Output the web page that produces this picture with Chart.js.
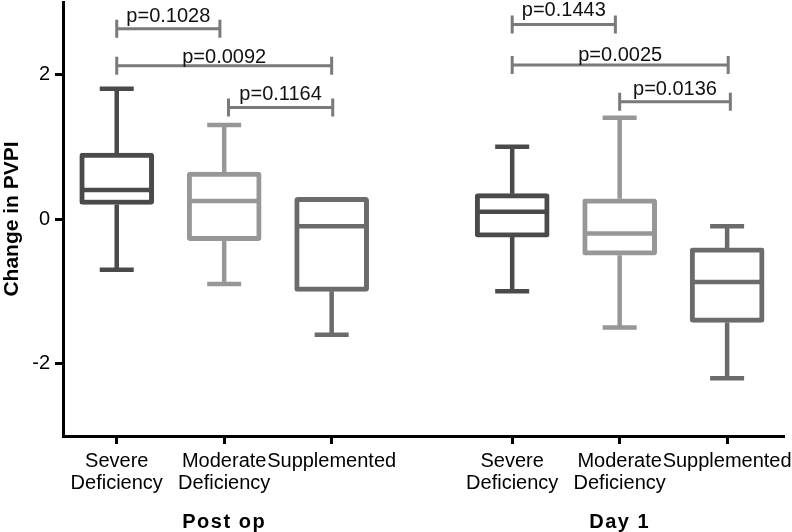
<!DOCTYPE html>
<html>
<head>
<meta charset="utf-8">
<script src="https://cdn.jsdelivr.net/npm/chart.js@4.4.1/dist/chart.umd.min.js"></script>
<style>
  html, body { margin: 0; padding: 0; background: #fff; }
  #wrap { width: 792px; height: 532px; }
</style>
</head>
<body>
<div id="wrap"><canvas id="pvpi"></canvas></div>
<script>
// categories and where they sit on the x axis (gap between the two time points)
var groups = ['Post op', 'Day 1'];
var groupCentre = [2, 5.68];
var categories = [
  ['Severe', 'Deficiency'], ['Moderate', 'Deficiency'], ['Supplemented'],
  ['Severe', 'Deficiency'], ['Moderate', 'Deficiency'], ['Supplemented']
];
var xPos = [1, 2, 3, 4.68, 5.68, 6.68];

// box plot values, change in PVPI
var whiskerLow  = [-0.7, -0.9, -1.6, -1.0, -1.5, -2.2];
var q1          = [0.2, -0.3, -1.0, -0.25, -0.5, -1.43];
var median      = [0.4, 0.25, -0.1, 0.1, -0.2, -0.87];
var q3          = [0.91, 0.65, 0.3, 0.35, 0.28, -0.4];
var whiskerHigh = [1.8, 1.3, 0.3, 1.0, 1.4, -0.1];

var yTicks = [-2, 0, 2];

// significance brackets
var pairFrom = [1, 1, 2.04, 4.68, 4.68, 5.68];
var pairTo   = [1.96, 3, 3.01, 5.64, 6.69, 6.71];
var pairY    = [2.63, 2.12, 1.54, 2.69, 2.13, 1.62];
var pValues  = ['p=0.1028', 'p=0.0092', 'p=0.1164', 'p=0.1443', 'p=0.0025', 'p=0.0136'];

var FONT = '"Liberation Sans", Arial, Helvetica, sans-serif';
var boxColors = ['#4a4a4a', '#979797', '#6b6b6b', '#4a4a4a', '#979797', '#6b6b6b'];
var labelGap = [7, 3, 8, 8, 4, 7];

var boxExtras = {
  id: 'boxExtras',
  afterDatasetsDraw: function (chart) {
    var ctx = chart.ctx, x = chart.scales.x, y = chart.scales.y;
    var half = 37, cap = 17;
    ctx.save();
    ctx.lineCap = 'butt';
    for (var i = 0; i < xPos.length; i++) {
      var cx = x.getPixelForValue(xPos[i]);
      ctx.strokeStyle = boxColors[i];
      ctx.lineWidth = 4.5;
      ctx.beginPath();
      if (whiskerHigh[i] > q3[i]) {
        var yh = y.getPixelForValue(whiskerHigh[i]);
        ctx.moveTo(cx, y.getPixelForValue(q3[i]));
        ctx.lineTo(cx, yh);
        ctx.moveTo(cx - cap, yh);
        ctx.lineTo(cx + cap, yh);
      }
      if (whiskerLow[i] < q1[i]) {
        var yl = y.getPixelForValue(whiskerLow[i]);
        ctx.moveTo(cx, y.getPixelForValue(q1[i]));
        ctx.lineTo(cx, yl);
        ctx.moveTo(cx - cap, yl);
        ctx.lineTo(cx + cap, yl);
      }
      var ym = y.getPixelForValue(median[i]);
      ctx.moveTo(cx - half + 2, ym);
      ctx.lineTo(cx + half - 2, ym);
      ctx.stroke();
    }

    // brackets with p values
    ctx.strokeStyle = '#7a7a7a';
    ctx.lineWidth = 3;
    ctx.fillStyle = '#111';
    ctx.font = '20px ' + FONT;
    ctx.textAlign = 'center';
    ctx.textBaseline = 'alphabetic';
    for (var j = 0; j < pValues.length; j++) {
      var x0 = x.getPixelForValue(pairFrom[j]);
      var x1 = x.getPixelForValue(pairTo[j]);
      var yb = y.getPixelForValue(pairY[j]);
      ctx.beginPath();
      ctx.moveTo(x0, yb); ctx.lineTo(x1, yb);
      ctx.moveTo(x0, yb - 9); ctx.lineTo(x0, yb + 9);
      ctx.moveTo(x1, yb - 9); ctx.lineTo(x1, yb + 9);
      ctx.stroke();
      ctx.fillText(pValues[j], (x0 + x1) / 2, yb - labelGap[j]);
    }
    ctx.restore();
  },
  afterDraw: function (chart) {
    var ctx = chart.ctx, x = chart.scales.x;
    ctx.save();
    ctx.fillStyle = '#000';
    ctx.font = 'bold 20px ' + FONT;
    ctx.letterSpacing = '1.5px';
    ctx.textAlign = 'center';
    ctx.textBaseline = 'middle';
    for (var g = 0; g < groups.length; g++) {
      ctx.fillText(groups[g], x.getPixelForValue(groupCentre[g]), chart.chartArea.bottom + 86);
    }
    ctx.restore();
  }
};

var ctx = document.getElementById('pvpi').getContext('2d');
var chart = new Chart(ctx, {
  type: 'bar',
  data: {
    datasets: [{
      data: xPos.map(function (v, i) { return { x: v, y: [q1[i], q3[i]] }; }),
      backgroundColor: '#ffffff',
      borderColor: boxColors,
      borderWidth: 5,
      borderSkipped: false,
      borderRadius: 3,
      barThickness: 74
    }]
  },
  options: {
    responsive: true,
    maintainAspectRatio: false,
    animation: false,
    layout: { padding: { top: 2, right: 9, left: 0, bottom: 0 } },
    plugins: {
      legend: { display: false },
      tooltip: { enabled: false }
    },
    scales: {
      x: {
        type: 'linear',
        min: 0.5,
        max: 7.2,
        offset: false,
        afterBuildTicks: function (s) { s.ticks = xPos.map(function (v) { return { value: v }; }); },
        afterFit: function (s) { s.height = 96; s.paddingLeft = 0; s.paddingRight = 0; },
        ticks: {
          autoSkip: false,
          maxRotation: 0,
          padding: 6,
          color: '#000',
          font: { family: FONT, size: 20, lineHeight: 1.1 },
          callback: function (v) {
            var i = xPos.indexOf(v);
            return i < 0 ? '' : categories[i];
          }
        },
        grid: { offset: false, drawOnChartArea: false, tickLength: 8, color: '#000', lineWidth: 3 },
        border: { color: '#000', width: 3 }
      },
      y: {
        min: -3,
        max: 3,
        afterBuildTicks: function (s) { s.ticks = yTicks.map(function (v) { return { value: v }; }); },
        afterFit: function (s) { s.width = 63; s.paddingTop = 0; s.paddingBottom = 0; },
        ticks: { padding: 5, color: '#000', font: { family: FONT, size: 20 } },
        grid: { drawOnChartArea: false, tickLength: 8, color: '#000', lineWidth: 3 },
        border: { color: '#000', width: 3 },
        title: {
          display: true,
          text: 'Change in PVPI',
          color: '#000',
          padding: 0,
          font: { family: FONT, size: 21, weight: 'bold' }
        }
      }
    }
  },
  plugins: [boxExtras]
});
</script>
</body>
</html>
